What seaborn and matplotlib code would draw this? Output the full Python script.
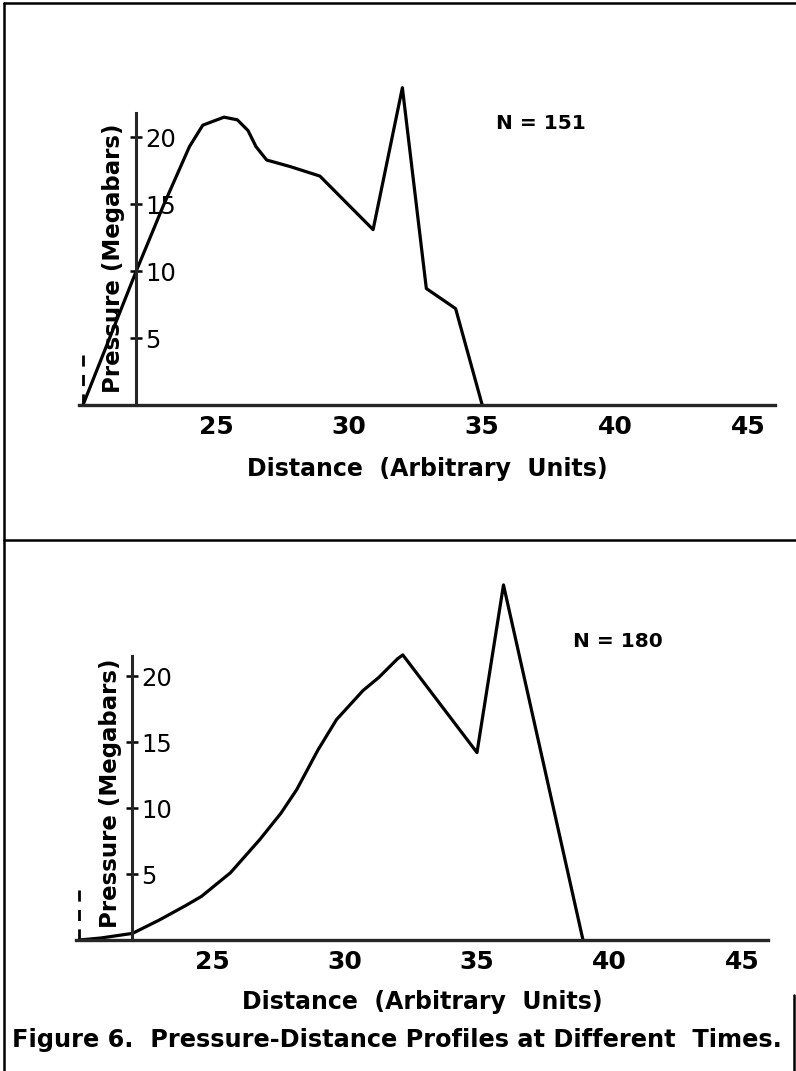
import matplotlib
matplotlib.use("Agg")
import matplotlib.pyplot as plt
from matplotlib.lines import Line2D
import seaborn as sns

# ----------------------------
# Data
# ----------------------------
# N = 151 profile
dist_151 = [20.0, 22.0, 23.0, 24.0, 24.5, 25.3, 25.8, 26.2, 26.5, 26.9,
            27.8, 28.9, 30.9, 32.0, 32.9, 34.0, 35.0]
pres_151 = [0.0, 10.0, 14.8, 19.3, 20.9, 21.5, 21.3, 20.5, 19.3, 18.3,
            17.8, 17.1, 13.1, 23.7, 8.7, 7.2, 0.0]

# N = 180 profile
dist_180 = [20.0, 20.8, 22.0, 23.0, 24.0, 24.6, 25.7, 26.8, 27.6, 28.2,
            28.6, 29.0, 29.7, 30.7, 31.3, 32.0, 32.2, 35.0, 36.0, 39.0]
pres_180 = [0.0, 0.15, 0.5, 1.5, 2.6, 3.3, 5.1, 7.6, 9.6, 11.4,
            12.9, 14.4, 16.7, 18.9, 19.9, 21.3, 21.6, 14.2, 26.9, 0.0]

x_ticks = [25, 30, 35, 40, 45]
y_ticks = [5, 10, 15, 20]
labels_n = ["N = 151", "N = 180"]
label_pos = [(37.2, 21.0), (40.3, 22.6)]

x_title = "Distance  (Arbitrary  Units)"
y_title = "Pressure (Megabars)"
caption = "Figure 6.  Pressure-Distance Profiles at Different  Times."

sns.set_style("white")
plt.rcParams["font.family"] = ["DejaVu Sans"]
for key in ["text.color", "axes.labelcolor", "xtick.color", "ytick.color"]:
    plt.rcParams[key] = "black"

W, H = 796, 1071
fig = plt.figure(figsize=(W / 100, H / 100), dpi=100)

# axes boxes in pixels: left, bottom-from-top, width, height
boxes = [(79, 405, 696, 328), (75.5, 940, 693, 369.6)]
ylims = [24.5, 28.0]
spine_tops = [21.8, 21.5]
ylab_y = [0.448, 0.398]
xlab_pad = [13, 11]

panels = [(dist_151, pres_151), (dist_180, pres_180)]

for i, (xs, ys) in enumerate(panels):
    l, b, w, h = boxes[i]
    ax = fig.add_axes([l / W, 1 - b / H, w / W, h / H])
    sns.lineplot(x=xs, y=ys, ax=ax, color="black", linewidth=2.3,
                 estimator=None, sort=False)
    ax.set_xlim(19.85, 46.0)
    ax.set_ylim(0, ylims[i])

    # y axis drawn at distance 22 with labels on its right side
    ax.spines["top"].set_visible(False)
    ax.spines["left"].set_visible(False)
    ax.spines["right"].set_position(("data", 22))
    ax.spines["right"].set_bounds(0, spine_tops[i])
    ax.spines["right"].set_linewidth(2.2)
    ax.spines["bottom"].set_linewidth(2.4)
    ax.yaxis.tick_right()

    ax.set_xticks(x_ticks)
    ax.set_xticklabels([str(t) for t in x_ticks], fontweight="bold")
    ax.set_yticks(y_ticks)
    ax.tick_params(axis="x", direction="inout", length=13, width=1.8,
                   labelsize=18, pad=1)
    ax.tick_params(axis="y", direction="inout", length=9, width=1.8,
                   labelsize=17.5, pad=2)

    ax.set_xlabel(x_title, fontsize=17, fontweight="bold", labelpad=xlab_pad[i])
    ax.set_ylabel("")
    ax.text(0.05, ylab_y[i], y_title, transform=ax.transAxes, rotation=90,
            ha="center", va="center", fontsize=16.5, fontweight="bold")

    # dashed marker at the left end of the profile
    ax.vlines(20, 0, 4.3, colors="black", linestyles=(0, (4, 3)), linewidth=2.0)

    ax.text(label_pos[i][0], label_pos[i][1], labels_n[i], ha="center",
            va="center", fontsize=14.5, fontweight="bold")

# frame lines of the scanned figure
frame = [((4, 4), (3, H)), ((4, W), (3, 3)), ((4, W), (540, 540)), ((794, 794), (995, H))]
for xs, ys in frame:
    fig.add_artist(Line2D([x / W for x in xs], [1 - y / H for y in ys],
                          color="black", linewidth=1.8))

fig.text(397 / W, 1 - 1040 / H, caption, ha="center", va="center",
         fontsize=17.3, fontweight="bold")

fig.savefig("out.png", dpi=100)
